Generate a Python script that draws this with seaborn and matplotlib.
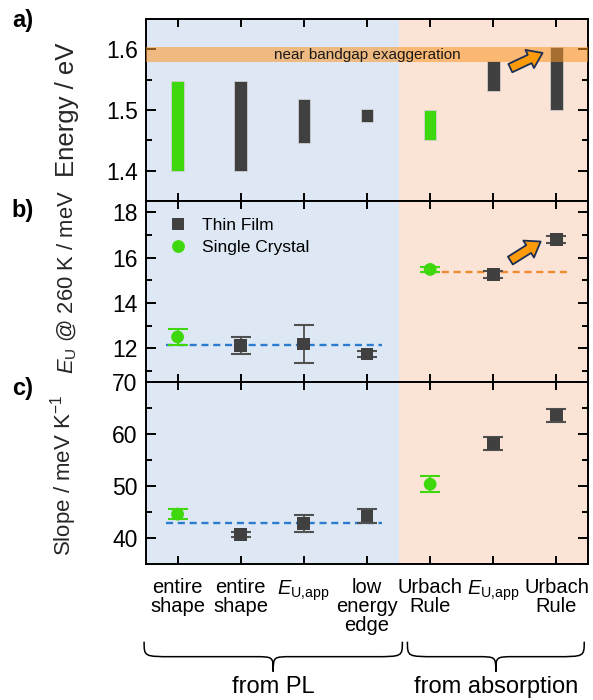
import numpy as np
import pandas as pd
import seaborn as sns
import matplotlib.pyplot as plt
from matplotlib.patches import FancyArrowPatch, PathPatch
from matplotlib.path import Path
from matplotlib.ticker import MultipleLocator
from matplotlib.transforms import blended_transform_factory

sns.set_style("ticks")
plt.rcParams["font.family"] = ["Liberation Sans", "DejaVu Sans"]
plt.rcParams["mathtext.fontset"] = "custom"
plt.rcParams["mathtext.rm"] = "Liberation Sans"
plt.rcParams["mathtext.it"] = "Liberation Sans:italic"
plt.rcParams["mathtext.bf"] = "Liberation Sans:bold"
plt.rcParams["text.color"] = "black"
plt.rcParams["axes.edgecolor"] = "black"

# evaluation methods along the x axis
method_labels = ["entire\nshape", "entire\nshape", "$E_\\mathrm{U,\\!app}$",
                 "low\nenergy\nedge", "Urbach\nRule", "$E_\\mathrm{U,\\!app}$",
                 "Urbach\nRule"]
method_pos = [0, 1, 2, 3, 4, 5, 6]
sample_kind = ["Single Crystal", "Thin Film", "Thin Film", "Thin Film",
               "Single Crystal", "Thin Film", "Thin Film"]
sample_order = ["Thin Film", "Single Crystal"]

# a) fitted energy windows (eV)
energy_low = [1.400, 1.400, 1.446, 1.480, 1.450, 1.532, 1.500]
energy_high = [1.548, 1.548, 1.518, 1.501, 1.500, 1.580, 1.603]
band_low = 1.579
band_high = 1.603

# b) Urbach energy at 260 K (meV)
eu_260 = [12.50, 12.13, 12.19, 11.75, 15.48, 15.26, 16.80]
eu_260_err = [0.37, 0.37, 0.85, 0.15, 0.12, 0.14, 0.16]
eu_pl_mean = 12.13
eu_abs_mean = 15.37

# c) temperature slope (meV K^-1)
slope = [44.64, 40.70, 42.84, 44.30, 50.40, 58.19, 63.69]
slope_err = [0.95, 0.50, 1.65, 1.35, 1.50, 1.29, 1.25]
slope_pl_mean = 42.9

df = pd.DataFrame({
    "pos": method_pos,
    "sample": sample_kind,
    "low": energy_low,
    "high": energy_high,
    "eu": eu_260,
    "eu_err": eu_260_err,
    "slope": slope,
    "slope_err": slope_err,
})

GREEN = "#3fd80f"
DARK = "#404040"
palette = {"Thin Film": DARK, "Single Crystal": GREEN}
err_color = {"Thin Film": "#505050", "Single Crystal": GREEN}
markers = {"Thin Film": "s", "Single Crystal": "o"}
BLUE_BG = "#dee8f4"
ORANGE_BG = "#fbe4d6"

fig = plt.figure(figsize=(5.93, 7.0), dpi=100)
L, W = 0.2462, 0.7454
ax_a = fig.add_axes([L, 0.7129, W, 0.2600])
ax_b = fig.add_axes([L, 0.4539, W, 0.2590])
ax_c = fig.add_axes([L, 0.1939, W, 0.2600])

for ax in (ax_a, ax_b, ax_c):
    ax.axvspan(-0.5, 3.5, color=BLUE_BG, lw=0, zorder=0)
    ax.axvspan(3.5, 6.5, color=ORANGE_BG, lw=0, zorder=0)
    ax.set_xlim(-0.5, 6.5)
    ax.set_xticks(method_pos)
    ax.tick_params(axis="x", which="both", direction="in", top=True,
                   bottom=True, length=5.5, width=1.4, color="black")
    ax.tick_params(axis="y", which="major", direction="in", left=True,
                   right=True, length=7.5, width=1.4, labelsize=16.5, pad=6,
                   color="black", labelcolor="black")
    ax.tick_params(axis="y", which="minor", direction="in", left=True,
                   right=True, length=4, width=1.4, color="black")
    for sp in ax.spines.values():
        sp.set_linewidth(1.4)
        sp.set_color("black")
        sp.set_visible(True)
    ax.set_xlabel("")

# ---- a) energy windows ----
bar_colors = [palette[k] for k in sample_kind]
ax_a.bar(df["pos"], df["high"] - df["low"], bottom=df["low"], width=0.2,
         color=bar_colors, edgecolor="#cfcfcf", linewidth=0.6, zorder=2)
ax_a.axhspan(band_low, band_high, color="#fc9523", alpha=0.55, lw=0, zorder=3)
ax_a.text(3.0, (band_low + band_high) / 2, "near bandgap exaggeration",
          ha="center", va="center", fontsize=11, color="#1a1a1a", zorder=4)
ax_a.set_ylim(1.35, 1.65)
ax_a.set_yticks([1.4, 1.5, 1.6])
ax_a.yaxis.set_minor_locator(MultipleLocator(0.05))
ax_a.set_ylabel("Energy / eV", fontsize=18.5)
ax_a.tick_params(axis="x", labelbottom=False)


def draw_points(ax, col, err_col):
    for kind in sample_order:
        sub = df[df["sample"] == kind]
        ax.errorbar(sub["pos"], sub[col], yerr=sub[err_col], fmt="none",
                    ecolor=err_color[kind], elinewidth=1.3, capsize=7.5,
                    capthick=1.5, zorder=3)
    sns.scatterplot(data=df, x="pos", y=col, hue="sample", style="sample",
                    hue_order=sample_order, style_order=sample_order,
                    palette=palette, markers=markers, s=85, linewidth=0,
                    ax=ax, zorder=4, legend=(ax is ax_b))


def fat_arrow(ax, start, end):
    arr = FancyArrowPatch(start, end,
                          arrowstyle="simple,head_length=0.85,head_width=1.2,tail_width=0.55",
                          mutation_scale=12, facecolor="#ff9a0a",
                          edgecolor="#1b2f55", linewidth=1.3,
                          shrinkA=0, shrinkB=0, zorder=5)
    ax.add_patch(arr)


fat_arrow(ax_a, (5.27, 1.569), (5.78, 1.594))

# ---- b) Urbach energy ----
ax_b.plot([-0.18, 3.24], [eu_pl_mean, eu_pl_mean], color="#2b7bd0",
          lw=1.7, linestyle=(0, (3, 2)), zorder=2.5)
ax_b.plot([4.0, 6.2], [eu_abs_mean, eu_abs_mean], color="#f08a30",
          lw=1.7, linestyle=(0, (3, 2)), zorder=2.5)
draw_points(ax_b, "eu", "eu_err")
fat_arrow(ax_b, (5.27, 15.87), (5.75, 16.71))
ax_b.set_ylim(10.5, 18.5)
ax_b.set_yticks([12, 14, 16, 18])
ax_b.yaxis.set_minor_locator(MultipleLocator(1))
ax_b.set_ylabel("$E_\\mathrm{U}$ @ 260 K / meV", fontsize=15.8)
ax_b.set_xlabel("")
ax_b.tick_params(axis="x", labelbottom=False)
handles, labels = ax_b.get_legend_handles_labels()
ax_b.legend(handles, labels, loc="upper left", bbox_to_anchor=(0.053, 0.906),
            frameon=False, fontsize=12.5, handlelength=1.0,
            handletextpad=0.9, labelspacing=0.37, borderpad=0,
            borderaxespad=0)

# ---- c) temperature slope ----
ax_c.plot([-0.18, 3.24], [slope_pl_mean, slope_pl_mean], color="#2b7bd0",
          lw=1.7, linestyle=(0, (3, 2)), zorder=2.5)
draw_points(ax_c, "slope", "slope_err")
ax_c.set_ylim(35, 70)
ax_c.set_yticks([40, 50, 60, 70])
ax_c.yaxis.set_minor_locator(MultipleLocator(5))
ax_c.set_ylabel("Slope / meV K$^{-1}$", fontsize=16)
ax_c.set_xlabel("")
ax_c.set_xticks(method_pos)
ax_c.set_xticklabels(method_labels, fontsize=14.5, linespacing=1.0)
ax_c.tick_params(axis="x", pad=10, labelcolor="black")

ax_a.yaxis.set_label_coords(-0.152, 0.5)
ax_b.yaxis.set_label_coords(-0.152, 0.555)
ax_c.yaxis.set_label_coords(-0.152, 0.49)

# panel letters
for letter, y in (("a)", 0.9707), ("b)", 0.700), ("c)", 0.4457)):
    fig.text(0.02, y, letter, fontsize=17, fontweight="bold",
             ha="left", va="center")

# group braces under the method labels
trans = blended_transform_factory(ax_c.transData, fig.transFigure)


def brace(x0, x1, y_end, y_flat, y_tip, r=0.45, r2=0.3):
    xm = (x0 + x1) / 2
    verts = [(x0, y_end), (x0, y_flat), (x0, y_flat), (x0 + r, y_flat),
             (xm - r2, y_flat),
             (xm, y_flat), (xm, y_flat), (xm, y_tip),
             (xm, y_flat), (xm, y_flat), (xm + r2, y_flat),
             (x1 - r, y_flat),
             (x1, y_flat), (x1, y_flat), (x1, y_end)]
    codes = [Path.MOVETO, Path.CURVE4, Path.CURVE4, Path.CURVE4,
             Path.LINETO,
             Path.CURVE4, Path.CURVE4, Path.CURVE4,
             Path.CURVE4, Path.CURVE4, Path.CURVE4,
             Path.LINETO,
             Path.CURVE4, Path.CURVE4, Path.CURVE4]
    patch = PathPatch(Path(verts, codes), facecolor="none", edgecolor="black",
                      linewidth=1.1, transform=trans, clip_on=False)
    fig.add_artist(patch)
    return xm


xm_pl = brace(-0.53, 3.56, 0.0833, 0.0619, 0.0404)
xm_abs = brace(3.64, 6.44, 0.0833, 0.0619, 0.0404)
fig.text(xm_pl, 0.0181, "from PL", transform=trans, fontsize=17,
         ha="center", va="center")
fig.text(xm_abs, 0.0181, "from absorption", transform=trans, fontsize=17,
         ha="center", va="center")

fig.savefig("out.png", dpi=100)
